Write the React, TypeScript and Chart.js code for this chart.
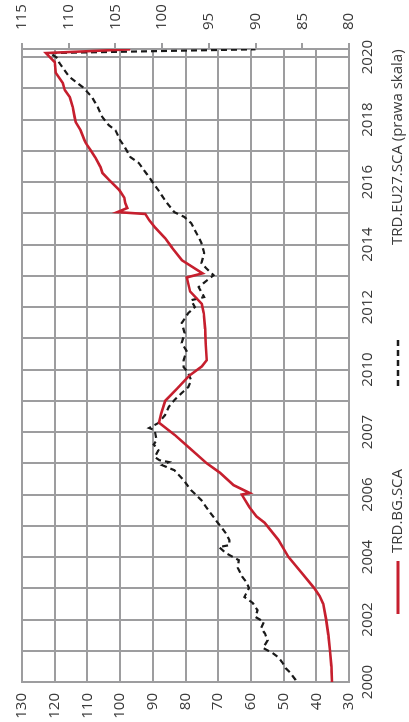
import React, { useEffect, useRef } from "react";
import { Chart, registerables } from "chart.js";

Chart.register(...registerables);

// Year axis
const yearTickValues = [2000, 2002, 2004, 2006, 2008, 2010, 2012, 2014, 2016, 2018, 2020];
const yearTickLabels = ["2000", "2002", "2004", "2006", "2007", "2010", "2012", "2014", "2016", "2018", "2020"];

// TRD.BG.SCA (left axis)
const bgYears = [
  2000.0, 2000.5, 2001.0, 2001.5, 2002.0, 2002.5, 2002.75, 2003.0, 2003.5, 2004.0,
  2004.55, 2005.1, 2005.3, 2005.6, 2006.0, 2006.05, 2006.3, 2006.7, 2007.0, 2007.5,
  2007.9, 2008.3, 2008.6, 2009.0, 2009.4, 2009.8, 2010.1, 2010.3, 2010.8, 2011.3,
  2011.8, 2012.1, 2012.5, 2012.95, 2013.08, 2013.5, 2013.9, 2014.2, 2014.55, 2014.78,
  2014.98, 2015.04, 2015.17, 2015.33, 2015.5, 2015.74, 2016.06, 2016.29, 2016.48, 2016.77,
  2017.02, 2017.25, 2017.34, 2017.66, 2017.92, 2018.08, 2018.4, 2018.72, 2018.94, 2019.17,
  2019.5, 2019.84, 2020.13, 2020.25,
];
const bgValues = [
  35.2, 35.4, 35.8, 36.3, 37.0, 37.9, 39.0, 40.6, 44.5, 48.5,
  51.6, 55.8, 58.3, 60.5, 62.8, 60.4, 65.3, 69.5, 73.5, 78.9,
  83.2, 88.1, 87.4, 86.2, 82.5, 78.9, 75.0, 73.5, 73.8, 74.0,
  74.4, 75.0, 78.6, 79.6, 74.8, 81.1, 84.1, 86.2, 89.3, 91.1,
  92.3, 100.8, 97.8, 98.4, 98.7, 100.2, 103.3, 105.4, 106.0, 107.5,
  109.0, 110.5, 110.9, 112.1, 113.6, 113.9, 114.5, 115.4, 116.9, 117.5,
  119.7, 120.0, 122.7, 96.9,
];

// TRD.EU27.SCA (right axis)
const euYears = [
  2000.06, 2000.3, 2000.45, 2000.61, 2000.8, 2000.93, 2001.09, 2001.34, 2001.55, 2001.73,
  2001.92, 2002.08, 2002.3, 2002.53, 2002.72, 2003.01, 2003.2, 2003.36, 2003.65, 2003.9,
  2004.13, 2004.32, 2004.38, 2004.54, 2004.77, 2005.0, 2005.28, 2005.6, 2005.82, 2006.14,
  2006.46, 2006.78, 2006.94, 2007.04, 2007.1, 2007.2, 2007.42, 2007.6, 2007.74, 2008.06,
  2008.13, 2008.29, 2008.54, 2008.8, 2009.02, 2009.25, 2009.44, 2009.66, 2009.89, 2010.08,
  2010.3, 2010.6, 2010.85, 2011.17, 2011.49, 2011.81, 2012.0, 2012.22, 2012.32, 2012.64,
  2013.02, 2013.25, 2013.41, 2013.73, 2014.05, 2014.24, 2014.69, 2014.88, 2015.04, 2015.42,
  2015.74, 2015.9, 2016.16, 2016.61, 2016.8, 2017.12, 2017.34, 2017.66, 2017.82, 2018.08,
  2018.4, 2018.72, 2019.04, 2019.36, 2019.81, 2019.97, 2020.13, 2020.25,
];
const euValues = [
  85.7, 86.3, 86.8, 87.1, 87.6, 88.2, 89.2, 88.7, 89.0, 89.4,
  89.1, 90.0, 89.8, 90.3, 91.2, 90.7, 91.0, 91.4, 91.9, 91.8,
  93.2, 93.9, 92.8, 92.8, 93.2, 93.8, 94.5, 95.3, 95.8, 96.9,
  97.7, 98.7, 100.0, 99.3, 100.3, 100.8, 100.4, 100.9, 100.6, 100.8,
  101.4, 100.4, 99.7, 99.3, 98.7, 97.9, 97.2, 96.9, 97.2, 97.7,
  97.7, 97.4, 97.9, 97.6, 97.9, 97.2, 96.5, 96.9, 95.5, 96.1,
  94.5, 95.3, 95.8, 95.5, 95.8, 96.1, 96.9, 97.6, 98.7, 99.7,
  100.4, 100.8, 101.4, 102.5, 103.4, 104.0, 104.5, 105.0, 105.7, 106.4,
  106.9, 107.5, 108.5, 109.9, 111.0, 111.2, 112.0, 90.0,
];

const legendLabels = ["TRD.BG.SCA", "TRD.EU27.SCA (prawa skala)"];

const RED = "#c61f2e";
const BLACK = "#1a1a1a";
const GRID = "#9d9d9f";
const TEXT = "#3a3a3a";
const FONT = { family: "'Open Sans', sans-serif", size: 15 };

const legendPlugin = {
  id: "customLegend",
  afterDraw(chart: any) {
    const ctx = chart.ctx;
    const y = 398;
    ctx.save();
    ctx.font = `15px 'Open Sans', sans-serif`;
    ctx.fillStyle = TEXT;
    ctx.textBaseline = "middle";
    // red item
    ctx.strokeStyle = RED;
    ctx.lineWidth = 3;
    ctx.beginPath();
    ctx.moveTo(108, y);
    ctx.lineTo(161, y);
    ctx.stroke();
    ctx.fillText(legendLabels[0], 169, y);
    // black dashed item
    ctx.strokeStyle = BLACK;
    ctx.lineWidth = 2.5;
    ctx.setLineDash([6, 4]);
    ctx.beginPath();
    ctx.moveTo(336, y);
    ctx.lineTo(385, y);
    ctx.stroke();
    ctx.setLineDash([]);
    ctx.fillText(legendLabels[1], 477, y);
    ctx.restore();
  },
};

export default function App() {
  const canvasRef = useRef<HTMLCanvasElement | null>(null);

  useEffect(() => {
    const canvas = canvasRef.current;
    if (!canvas) return;
    const chart = new Chart(canvas, {
      type: "line",
      data: {
        datasets: [
          {
            label: legendLabels[0],
            data: bgYears.map((x, i) => ({ x, y: bgValues[i] })),
            borderColor: RED,
            borderWidth: 2.6,
            pointRadius: 0,
            tension: 0,
            yAxisID: "y",
          },
          {
            label: legendLabels[1],
            data: euYears.map((x, i) => ({ x, y: euValues[i] })),
            borderColor: BLACK,
            borderWidth: 2.2,
            borderDash: [6, 4],
            pointRadius: 0,
            tension: 0,
            yAxisID: "y2",
          },
        ],
      },
      options: {
        animation: false,
        responsive: false,
        devicePixelRatio: 1,
        layout: { padding: { top: 19, left: 0, right: 0, bottom: 0 } },
        plugins: { legend: { display: false }, tooltip: { enabled: false } },
        scales: {
          x: {
            type: "linear",
            position: "bottom",
            min: 2000,
            max: 2020.26,
            grid: { color: GRID, lineWidth: 2, drawTicks: false },
            border: { display: true, color: GRID, width: 2 },
            ticks: {
              stepSize: 1,
              includeBounds: false,
              autoSkip: false,
              maxRotation: 0,
              minRotation: 0,
              padding: 10,
              color: TEXT,
              font: FONT,
              callback: (v: any) => {
                const idx = yearTickValues.indexOf(Math.round(Number(v)));
                return idx >= 0 && Math.abs(Number(v) - yearTickValues[idx]) < 0.01 ? yearTickLabels[idx] : "";
              },
            },
            afterFit: (s: any) => {
              s.height = 60;
            },
          },
          y: {
            position: "left",
            min: 30,
            max: 130,
            grid: { color: GRID, lineWidth: 2, drawTicks: false },
            border: { display: true, color: GRID, width: 2 },
            ticks: { stepSize: 10, padding: 11, color: TEXT, font: FONT },
            afterFit: (s: any) => {
              s.width = 40;
            },
          },
          y2: {
            position: "right",
            min: 80,
            max: 115,
            grid: { drawOnChartArea: false, drawTicks: true, tickLength: 6, color: GRID, lineWidth: 2 },
            border: { display: true, color: GRID, width: 2 },
            ticks: { stepSize: 5, padding: 13, color: TEXT, font: FONT },
            afterFit: (s: any) => {
              s.width = 49;
            },
          },
        },
      },
      plugins: [legendPlugin],
    });
    return () => chart.destroy();
  }, []);

  return (
    <div
      style={{
        position: "fixed",
        left: 0,
        top: 0,
        width: 409,
        height: 722,
        overflow: "hidden",
        background: "#ffffff",
      }}
    >
      <div
        style={{
          position: "absolute",
          left: 0,
          top: 0,
          width: 722,
          height: 409,
          transformOrigin: "0 0",
          transform: "translate(0px, 722px) rotate(-90deg)",
        }}
      >
        <canvas ref={canvasRef} width={722} height={409} style={{ display: "block" }} />
      </div>
    </div>
  );
}
